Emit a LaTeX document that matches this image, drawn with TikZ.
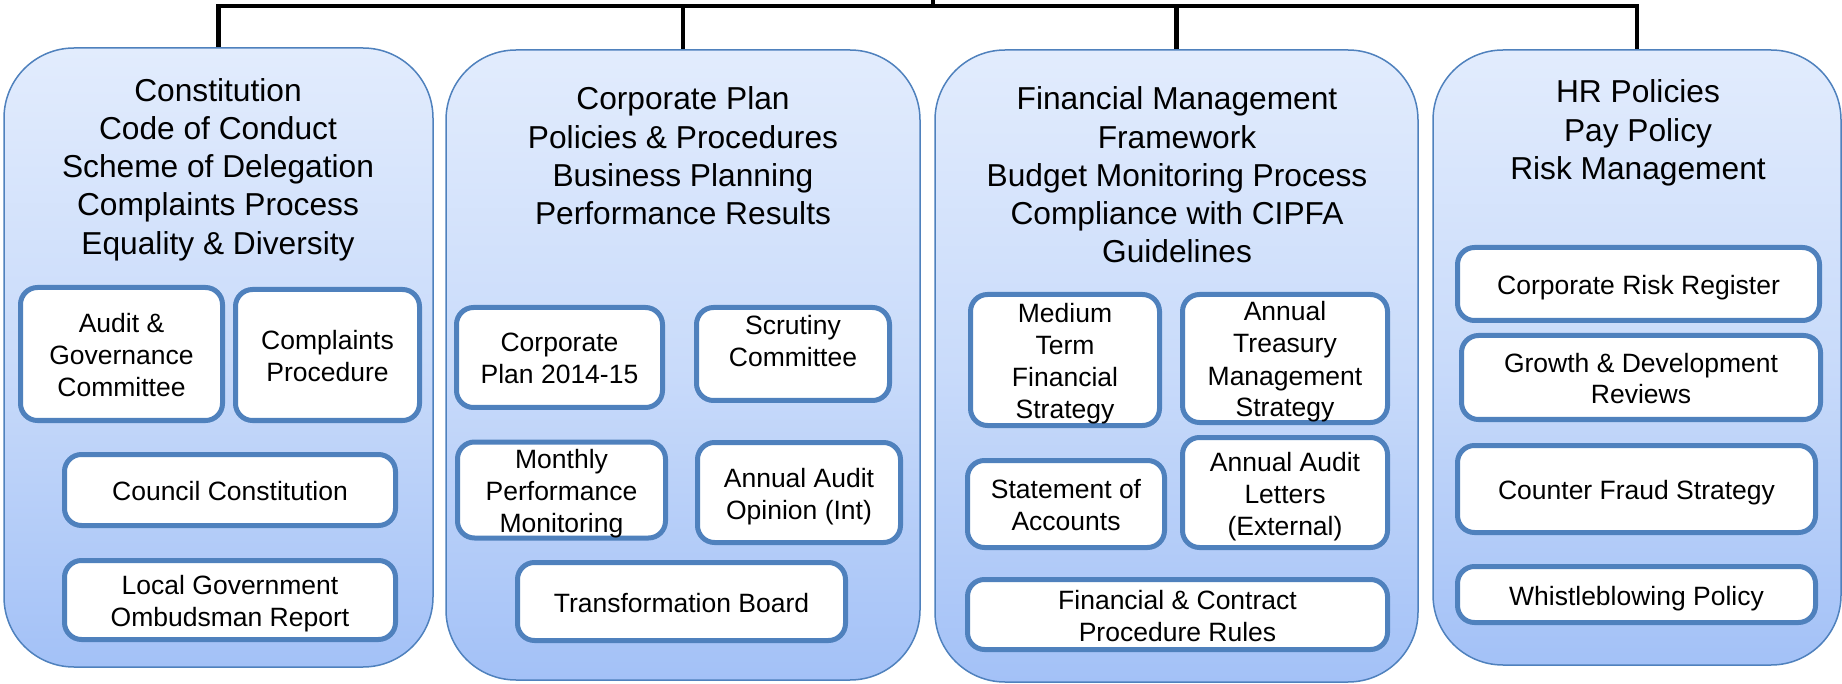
\documentclass[tikz,border=0pt]{standalone}
\usepackage{fontspec}
\setmainfont{Liberation Sans}
\usetikzlibrary{calc}

\definecolor{boxline}{RGB}{79,129,189}
\definecolor{gradtop}{RGB}{226,236,253}
\definecolor{gradmid}{RGB}{201,219,250}
\definecolor{gradbot}{RGB}{163,193,247}

% struts that balance the text block so caps sit in the middle of each box
\newcommand{\topstrut}{\rule{0pt}{26.5pt}}
\newcommand{\botstrut}{\rule[-5.5pt]{0pt}{0pt}}

\tikzset{
  panel/.style={draw=boxline, line width=1.5pt, rounded corners=70pt,
    top color=gradtop, bottom color=gradbot, middle color=gradmid},
  heading/.style={align=center, inner sep=0pt,
    font=\fontsize{31.7}{38.3}\selectfont},
  item/.style={draw=boxline, line width=5pt, fill=white, rounded corners=17pt,
    align=center, inner xsep=4pt, inner ysep=0pt,
    font=\fontsize{26.5}{32}\selectfont},
  itemtext/.style={align=center, inner sep=0pt,
    font=\fontsize{26.5}{32}\selectfont},
  conn/.style={draw=black, line width=4.5pt, line join=miter}
}

\begin{document}
\begin{tikzpicture}[x=1pt,y=1pt]
\useasboundingbox (0,0) rectangle (1842,-684);

% four governance panels
\node[panel, minimum width=429, minimum height=619] (b1) at (218.5,-357.5) {};
\node[panel, minimum width=474, minimum height=630] (b2) at (683,-365) {};
\node[panel, minimum width=483, minimum height=632] (b3) at (1176.5,-366) {};
\node[panel, minimum width=408, minimum height=615] (b4) at (1637,-357.5) {};

% connectors from the top bus
\coordinate (root) at (933,2);
\coordinate (bus) at (933,-6);
\draw[conn] (b1.north) |- (bus) -| (b4.north);
\draw[conn] (root) -- (bus);
\draw[conn] (b2.north) -- (b2.north |- bus);
\draw[conn] (b3.north) -- (b3.north |- bus);

% panel headings
\node[heading] (h1) at (218,-169.5) {Constitution\\Code of Conduct\\Scheme of Delegation\\Complaints Process\\Equality \& Diversity};
\node[heading] (h2) at (683,-156) {Corporate Plan\\Policies \& Procedures\\Business Planning\\Performance Results};
\node[heading] (h3) at (1177,-175) {Financial Management\\Framework\\Budget Monitoring Process\\Compliance with CIPFA\\Guidelines};
\node[heading] (h4) at (1638,-133) {HR Policies\\Pay Policy\\Risk Management};

% panel 1 items
\node[item, minimum width=202, minimum height=133] (aud) at (121.5,-354) {\topstrut Audit \&\\Governance\\Committee\botstrut};
\node[item, minimum width=184, minimum height=131] (cpr) at (327.5,-355) {\topstrut Complaints\\Procedure\botstrut};
\node[item, minimum width=331, minimum height=71] (cco) at (230,-490) {\topstrut Council Constitution\botstrut};
\node[item, minimum width=331, minimum height=79] (lgo) at (230,-600) {\topstrut Local Government\\Ombudsman Report\botstrut};

% panel 2 items
\node[item, minimum width=206, minimum height=100] (cpl) at (559.5,-357.5) {\topstrut Corporate\\Plan 2014-15\botstrut};
\node[item, minimum width=193, minimum height=93] (scr) at (793,-354) {};
\node[itemtext] (scrt) at (793,-341) {Scrutiny\\Committee};
\node[item, minimum width=208, minimum height=95] (mpm) at (561.5,-490) {\topstrut Monthly\\Performance\\Monitoring\botstrut};
\node[item, minimum width=203, minimum height=100] (aao) at (799,-492.5) {\topstrut Annual Audit\\Opinion (Int)\botstrut};
\node[item, minimum width=328, minimum height=78] (tfb) at (681.5,-601.5) {\topstrut Transformation Board\botstrut};

% panel 3 items
\node[item, minimum width=189, minimum height=131] (mtf) at (1065,-360) {\topstrut Medium\\Term\\Financial\\Strategy\botstrut};
\node[item, minimum width=205, minimum height=128] (atm) at (1285,-358.5) {\topstrut Annual\\Treasury\\Management\\Strategy\botstrut};
\node[item, minimum width=197, minimum height=87] (soa) at (1066,-504) {\topstrut Statement of\\Accounts\botstrut};
\node[item, minimum width=205, minimum height=110] (aal) at (1285,-492.5) {\topstrut Annual Audit\\Letters\\(External)\botstrut};
\node[item, minimum width=420, minimum height=70] (fcp) at (1177.5,-614.5) {\topstrut Financial \& Contract\\Procedure Rules\botstrut};

% panel 4 items
\node[item, minimum width=362, minimum height=73] (crr) at (1638.5,-284) {\topstrut Corporate Risk Register\botstrut};
\node[item, minimum width=359, minimum height=84] (gdr) at (1641,-377.5) {\topstrut Growth \& Development\\Reviews\botstrut};
\node[item, minimum width=358, minimum height=87] (cfs) at (1636.5,-489) {\topstrut Counter Fraud Strategy\botstrut};
\node[item, minimum width=358, minimum height=56] (wbp) at (1636.5,-594.5) {\topstrut Whistleblowing Policy\botstrut};
\end{tikzpicture}
\end{document}
